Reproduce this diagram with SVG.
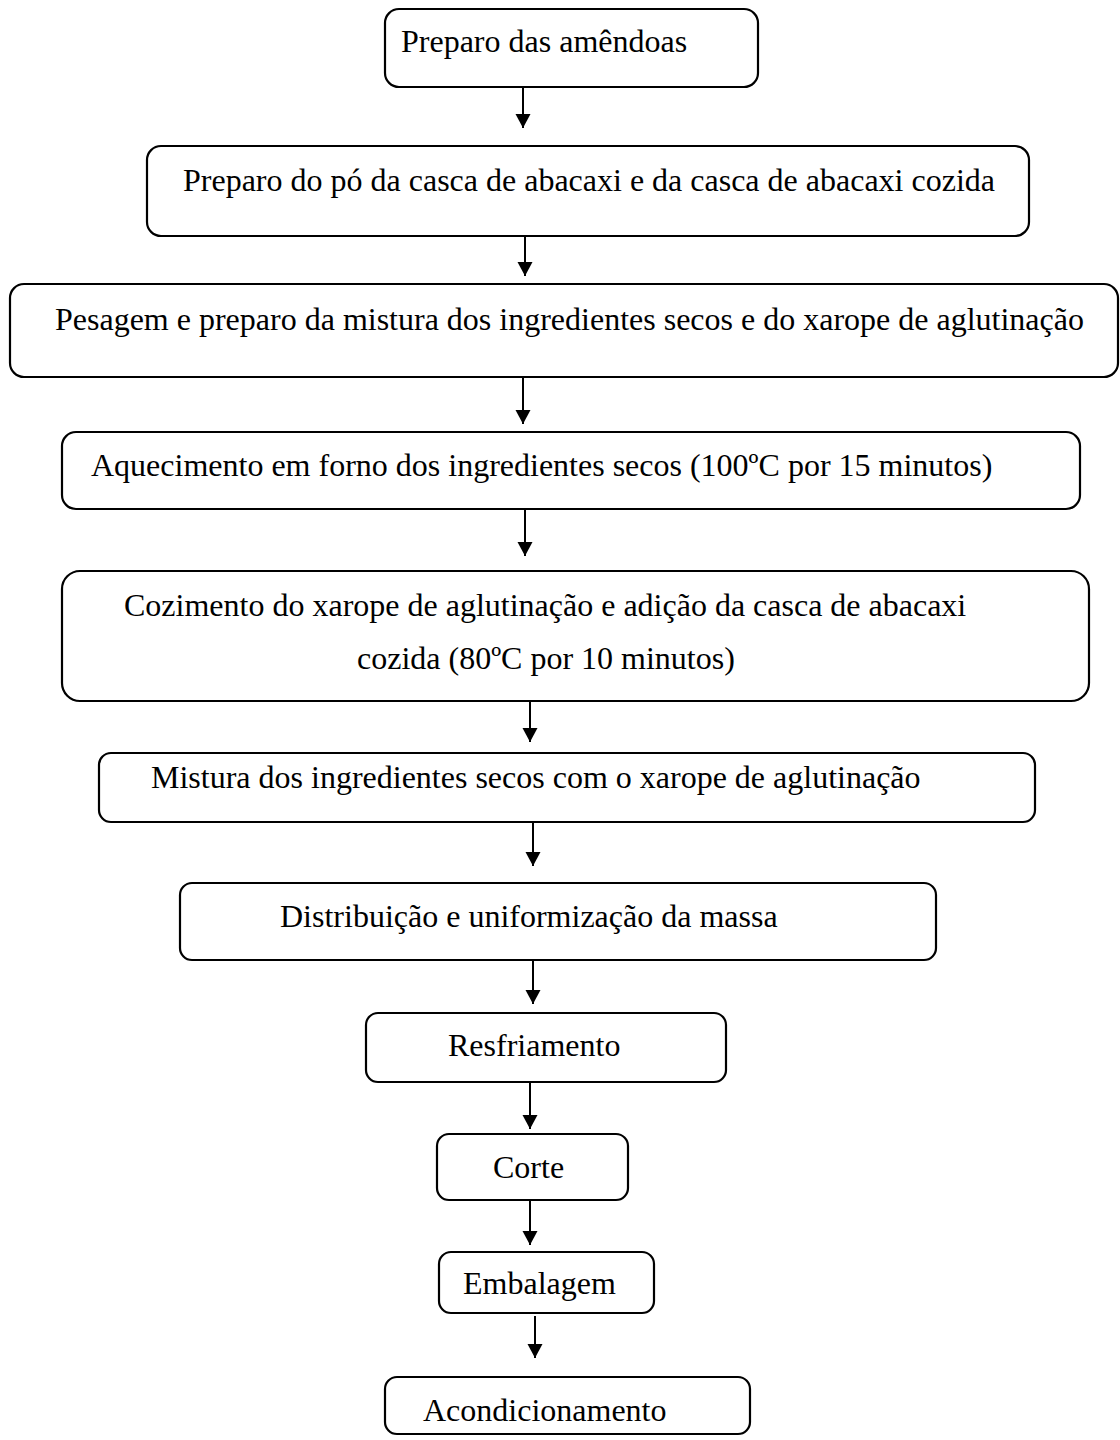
<svg xmlns="http://www.w3.org/2000/svg" width="1120" height="1440" viewBox="0 0 1120 1440">
<style>
.box{fill:#fff;stroke:#000;stroke-width:2.2}
.lbl{font-family:"Liberation Serif","Times New Roman",serif;font-size:32px;fill:#000}
.edge{stroke:#000;stroke-width:2;fill:none}
</style>
<defs>
<marker id="ah" markerUnits="userSpaceOnUse" markerWidth="16" markerHeight="16" viewBox="0 0 16 16" refX="15" refY="8" orient="auto">
<path d="M1,0.5 L15,8 L1,15.5 Z" fill="#000"/>
</marker>
</defs>
<rect width="1120" height="1440" fill="#fff"/>
<g id="n1"><rect class="box" x="385" y="9" width="373" height="78" rx="14"/><text class="lbl" x="401" y="52">Preparo das amêndoas</text></g>
<g id="n2"><rect class="box" x="147" y="146" width="882" height="90" rx="14"/><text class="lbl" x="183" y="191">Preparo do pó da casca de abacaxi e da casca de abacaxi cozida</text></g>
<g id="n3"><rect class="box" x="10" y="284" width="1108" height="93" rx="14"/><text class="lbl" x="55" y="330">Pesagem e preparo da mistura dos ingredientes secos e do xarope de aglutinação</text></g>
<g id="n4"><rect class="box" x="62" y="432" width="1018" height="77" rx="14"/><text class="lbl" x="91" y="476">Aquecimento em forno dos ingredientes secos (100ºC por 15 minutos)</text></g>
<g id="n5"><rect class="box" x="62" y="571" width="1027" height="130" rx="18"/><text class="lbl" x="124" y="616">Cozimento do xarope de aglutinação e adição da casca de abacaxi</text><text class="lbl" x="357" y="669">cozida (80ºC por 10 minutos)</text></g>
<g id="n6"><rect class="box" x="99" y="753" width="936" height="69" rx="12"/><text class="lbl" x="151" y="788">Mistura dos ingredientes secos com o xarope de aglutinação</text></g>
<g id="n7"><rect class="box" x="180" y="883" width="756" height="77" rx="12"/><text class="lbl" x="280" y="927">Distribuição e uniformização da massa</text></g>
<g id="n8"><rect class="box" x="366" y="1013" width="360" height="69" rx="12"/><text class="lbl" x="448" y="1056">Resfriamento</text></g>
<g id="n9"><rect class="box" x="437" y="1134" width="191" height="66" rx="12"/><text class="lbl" x="493" y="1178">Corte</text></g>
<g id="n10"><rect class="box" x="439" y="1252" width="215" height="61" rx="12"/><text class="lbl" x="463" y="1294">Embalagem</text></g>
<g id="n11"><rect class="box" x="385" y="1377" width="365" height="57" rx="12"/><text class="lbl" x="423" y="1421">Acondicionamento</text></g>
<g id="connectors">
<line class="edge" x1="523" y1="88" x2="523" y2="128" marker-end="url(#ah)"/>
<line class="edge" x1="525" y1="237" x2="525" y2="276" marker-end="url(#ah)"/>
<line class="edge" x1="523" y1="378" x2="523" y2="424" marker-end="url(#ah)"/>
<line class="edge" x1="525" y1="510" x2="525" y2="556" marker-end="url(#ah)"/>
<line class="edge" x1="530" y1="702" x2="530" y2="742" marker-end="url(#ah)"/>
<line class="edge" x1="533" y1="823" x2="533" y2="866" marker-end="url(#ah)"/>
<line class="edge" x1="533" y1="961" x2="533" y2="1004" marker-end="url(#ah)"/>
<line class="edge" x1="530" y1="1083" x2="530" y2="1129" marker-end="url(#ah)"/>
<line class="edge" x1="530" y1="1201" x2="530" y2="1245" marker-end="url(#ah)"/>
<line class="edge" x1="535" y1="1316" x2="535" y2="1358" marker-end="url(#ah)"/>
</g>
</svg>
